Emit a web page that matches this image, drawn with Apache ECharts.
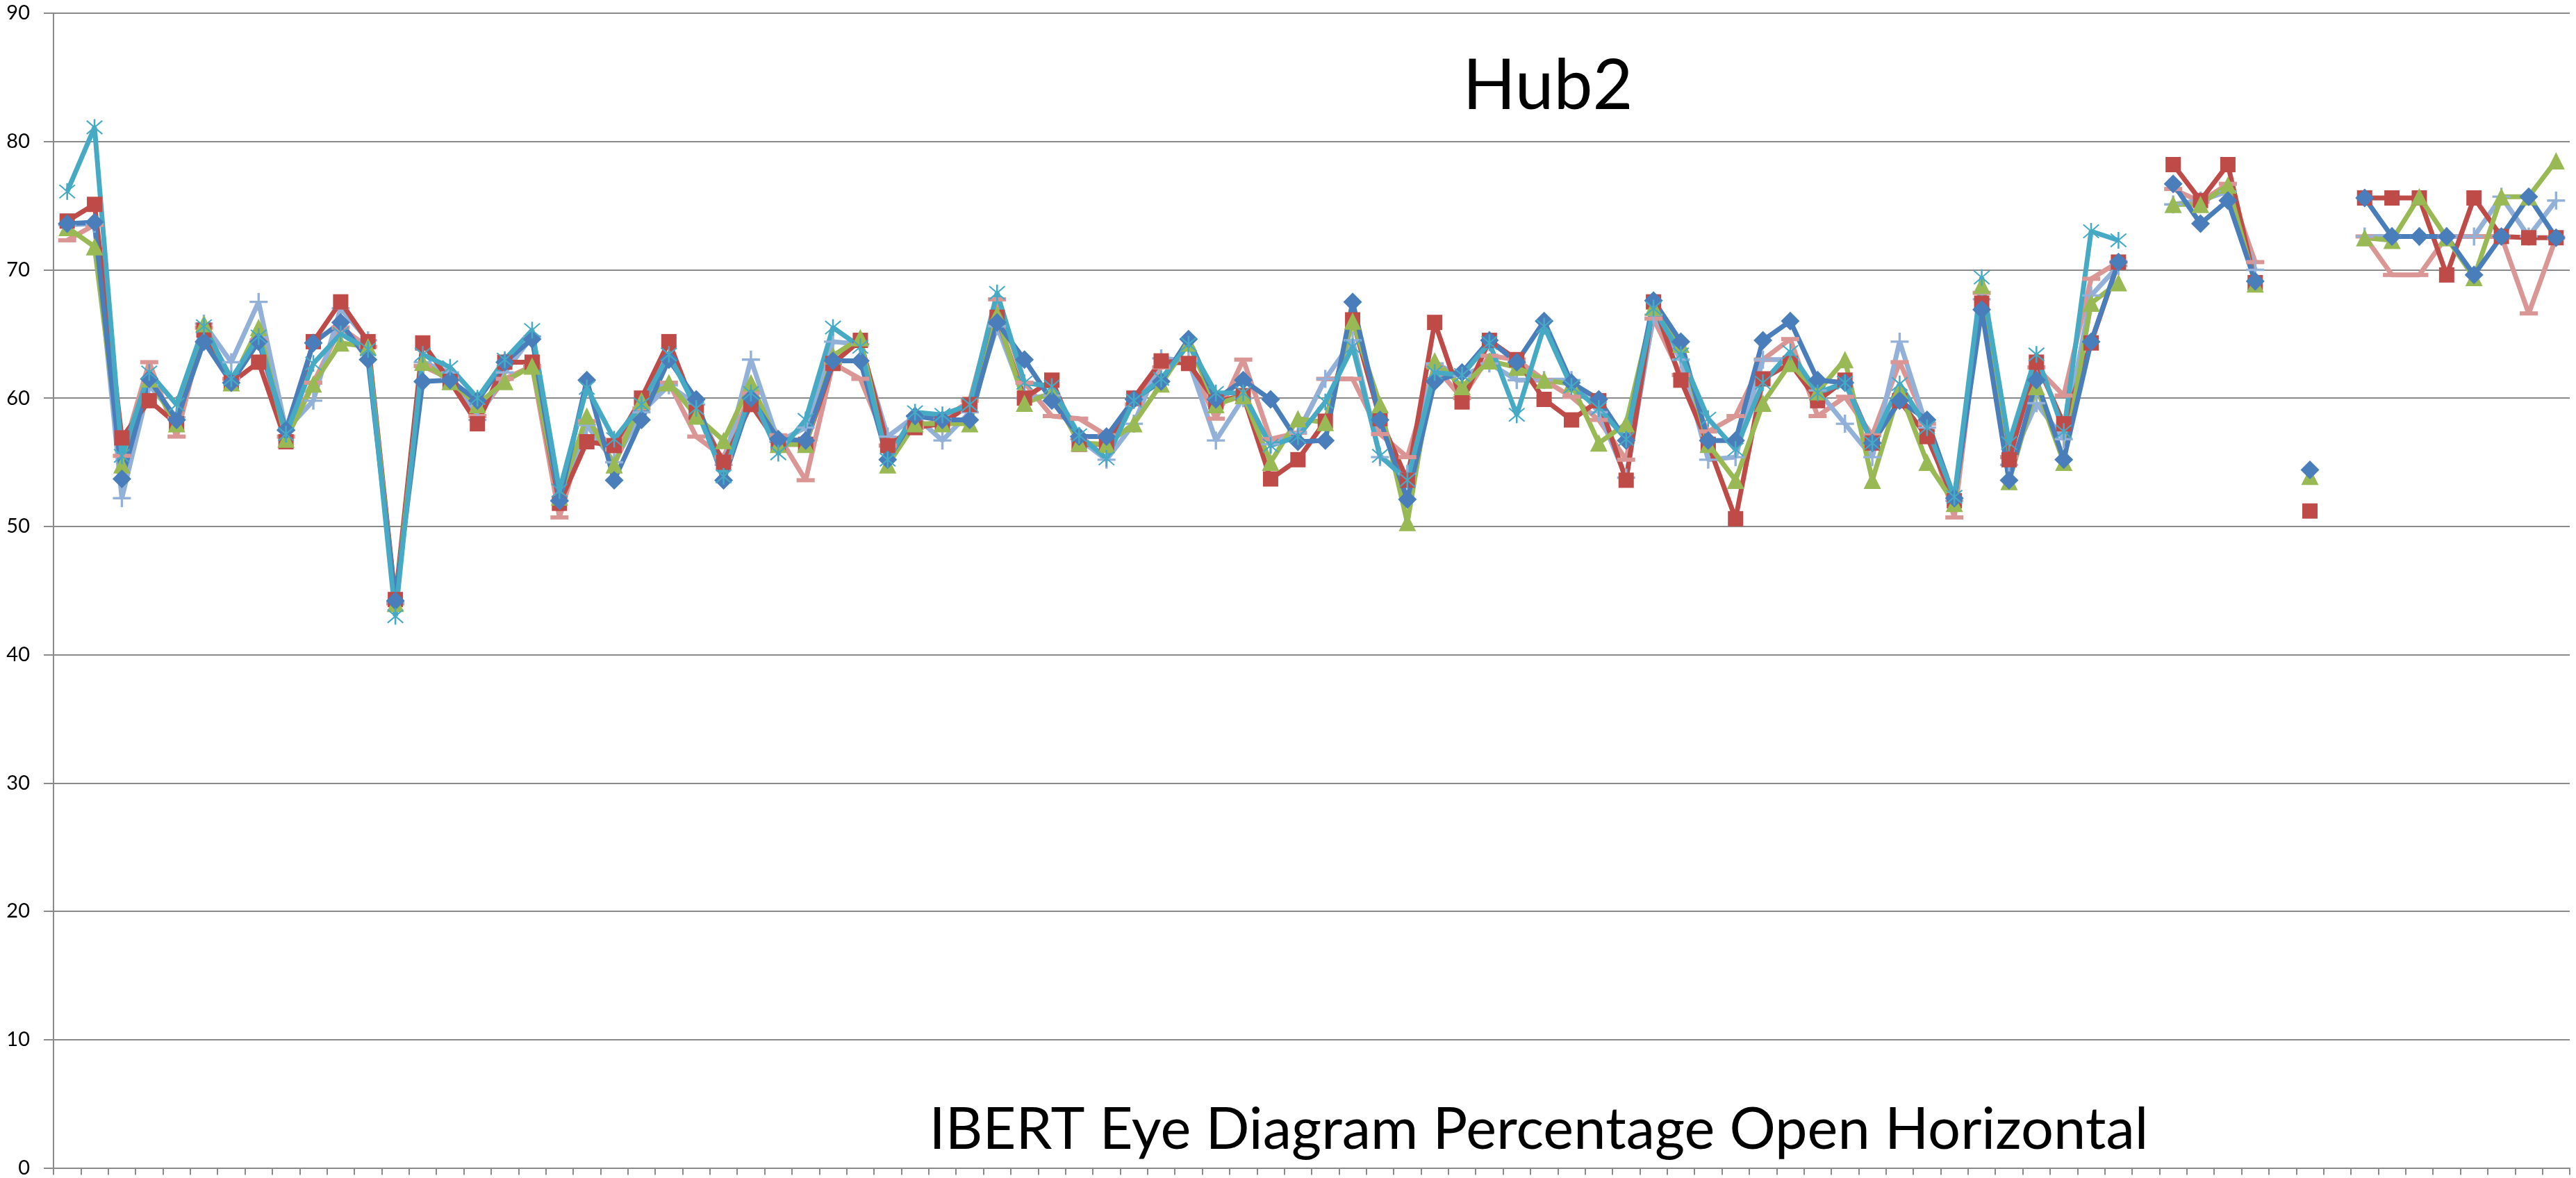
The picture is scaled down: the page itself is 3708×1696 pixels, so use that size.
<!DOCTYPE html>
<html>
<head>
<meta charset="utf-8">
<title>Hub2</title>
<script src="https://cdn.jsdelivr.net/npm/echarts@6/dist/echarts.min.js"></script>
<style>
  html, body { margin: 0; padding: 0; background: #ffffff; }
  #chart { width: 3708px; height: 1696px; }
</style>
</head>
<body>
<div id="chart"></div>
<script>
// ---------- data ----------
var categories = [];
for (var c = 1; c <= 92; c++) categories.push(String(c));

var chartTitle = 'Hub2';
var axisTitle = 'IBERT Eye Diagram Percentage Open Horizontal';
var yMin = 0, yMax = 90, yStep = 10;

var blueDiamond = [
  73.6, 73.7, 53.7, 61.5, 58.3, 64.4, 61.2, 64.4, 57.5, 64.3,
  65.9, 63.0, 44.2, 61.3, 61.4, 59.8, 62.8, 64.6, 52.0, 61.4,
  53.6, 58.3, 63.0, 59.9, 53.6, 60.0, 56.8, 56.7, 62.9, 62.9,
  55.2, 58.6, 58.3, 58.3, 65.9, 63.0, 59.8, 57.0, 57.0, 59.9,
  61.3, 64.6, 59.9, 61.4, 59.9, 56.6, 56.7, 67.5, 58.3, 52.1,
  61.3, 62.0, 64.5, 62.8, 66.0, 61.2, 59.9, 56.7, 67.6, 64.4,
  56.7, 56.7, 64.5, 66.0, 61.4, 61.2, 56.5, 59.8, 58.3, 52.2,
  66.9, 53.6, 61.4, 55.2, 64.4, 70.6, null, 76.7, 73.6, 75.4,
  69.1, null, 54.4, null, 75.6, 72.6, 72.6, 72.6, 69.6, 72.6,
  75.7, 72.5
];
var redSquare = [
  73.8, 75.1, 56.9, 59.8, 58.0, 65.3, 61.2, 62.8, 56.6, 64.4,
  67.5, 64.4, 44.3, 64.3, 61.3, 58.0, 62.8, 62.8, 51.8, 56.6,
  56.3, 60.0, 64.4, 58.9, 55.0, 59.5, 56.4, 56.4, 62.7, 64.5,
  56.3, 57.7, 58.0, 59.5, 66.3, 60.0, 61.4, 56.4, 56.4, 60.0,
  62.9, 62.7, 59.7, 60.2, 53.7, 55.2, 58.2, 66.1, 58.4, 53.6,
  65.9, 59.7, 64.5, 63.0, 59.9, 58.3, 59.8, 53.6, 67.5, 61.4,
  56.4, 50.6, 61.5, 62.7, 59.8, 61.4, 56.5, 59.8, 57.0, 52.0,
  67.4, 55.2, 62.8, 58.0, 64.3, 70.6, null, 78.2, 75.4, 78.2,
  69.0, null, 51.2, null, 75.6, 75.6, 75.6, 69.6, 75.6, 72.6,
  72.5, 72.5
];
var greenTriangle = [
  73.3, 71.8, 54.8, 61.5, 58.0, 65.8, 61.2, 65.5, 56.8, 61.1,
  64.3, 64.0, 44.0, 62.8, 61.3, 59.5, 61.3, 62.5, 52.3, 58.6,
  54.8, 59.8, 61.2, 58.6, 56.7, 61.2, 56.4, 56.4, 63.3, 64.7,
  54.8, 58.0, 58.0, 58.0, 66.5, 59.6, 60.4, 56.5, 56.4, 58.0,
  61.1, 64.3, 59.5, 60.2, 55.0, 58.4, 58.1, 66.0, 59.5, 50.3,
  62.9, 60.9, 62.9, 62.4, 61.4, 61.1, 56.5, 58.0, 67.1, 64.2,
  56.4, 53.6, 59.6, 62.7, 60.5, 63.0, 53.6, 60.6, 55.0, 51.8,
  68.8, 53.5, 60.9, 55.0, 67.4, 69.0, null, 75.1, 75.1, 76.6,
  68.9, null, 53.9, null, 72.5, 72.3, 75.7, 72.5, 69.4, 75.7,
  75.7, 78.5
];
var tealAsterisk = [
  76.1, 81.1, 55.5, 62.0, 59.5, 65.6, 61.5, 64.8, 57.2, 62.7,
  65.0, 63.8, 43.0, 63.4, 62.4, 60.0, 63.0, 65.3, 52.8, 60.8,
  56.8, 59.5, 63.4, 59.2, 53.9, 60.4, 55.7, 58.3, 65.5, 64.0,
  55.2, 58.9, 58.7, 59.5, 68.2, 61.2, 60.9, 57.1, 55.3, 59.8,
  61.5, 64.2, 60.4, 60.4, 56.3, 57.0, 59.7, 64.0, 55.5, 53.6,
  62.0, 61.8, 64.3, 58.7, 65.6, 60.9, 59.2, 56.8, 67.0, 63.4,
  58.4, 56.0, 61.2, 63.6, 60.4, 61.2, 56.5, 61.1, 57.7, 52.3,
  69.4, 56.5, 63.4, 57.4, 73.0, 72.3, null, null, null, null,
  null, null, null, null, null, null, null, null, null, null,
  null, null
];
var lightBluePlus = [
  73.5, 73.6, 52.2, 61.0, 58.5, 65.8, 62.8, 67.5, 57.5, 59.8,
  67.0, 64.5, 44.0, 62.8, 62.0, 58.3, 62.0, 64.8, 52.0, 57.9,
  55.0, 58.9, 61.0, 59.5, 54.8, 63.0, 56.6, 57.7, 64.4, 64.2,
  57.0, 58.6, 56.7, 58.9, 65.6, 60.0, 60.2, 56.8, 55.2, 58.0,
  63.1, 62.9, 56.7, 60.0, 56.4, 57.3, 61.5, 64.5, 55.4, 54.1,
  62.7, 61.7, 62.7, 61.4, 61.4, 61.4, 58.9, 53.8, 66.5, 63.0,
  55.2, 55.4, 63.0, 63.0, 60.6, 58.0, 55.4, 64.4, 57.7, 52.0,
  67.7, 54.8, 59.6, 56.8, 68.0, 70.3, null, 75.1, 75.4, 76.1,
  70.0, null, null, null, 72.6, 72.6, 72.6, 72.6, 72.6, 75.7,
  72.6, 75.4
];
var pinkDash = [
  72.3, 73.5, 55.5, 62.8, 57.0, 65.5, 61.5, 64.5, 57.0, 61.2,
  65.5, 64.0, 44.0, 62.5, 61.5, 58.6, 61.5, 62.5, 50.7, 58.2,
  56.0, 59.2, 61.2, 57.0, 55.4, 60.4, 57.1, 53.6, 62.7, 61.5,
  56.3, 57.7, 58.3, 59.8, 67.7, 61.2, 58.6, 58.4, 57.1, 59.5,
  62.4, 63.0, 58.4, 63.0, 56.8, 57.3, 61.5, 61.5, 57.2, 55.4,
  62.5, 60.0, 63.3, 63.0, 61.4, 60.1, 58.3, 55.2, 66.2, 61.8,
  57.4, 58.6, 63.0, 64.6, 58.6, 60.1, 57.1, 62.8, 58.0, 50.7,
  68.2, 55.4, 62.4, 60.2, 69.3, 70.6, null, 76.3, 75.3, 76.7,
  70.6, null, null, null, 72.6, 69.6, 69.6, 72.6, 72.6, 72.6,
  66.6, 72.5
];

// ---------- marker shapes ----------
var plusPath = 'path://M-1,-0.13 L-0.13,-0.13 L-0.13,-1 L0.13,-1 L0.13,-0.13 L1,-0.13 L1,0.13 L0.13,0.13 L0.13,1 L-0.13,1 L-0.13,0.13 L-1,0.13 Z';
var asteriskPath = 'path://M-0.09,-1 L0.09,-1 L0.09,1 L-0.09,1 Z ' +
  'M-0.743,-0.857 L0.857,0.743 L0.743,0.857 L-0.857,-0.743 Z ' +
  'M-0.857,0.743 L0.743,-0.857 L0.857,-0.743 L-0.743,0.857 Z';

function mk(name, data, color, symbol, size) {
  return {
    name: name,
    type: 'line',
    data: data,
    symbol: symbol,
    symbolSize: size,
    showSymbol: true,
    showAllSymbol: true,
    connectNulls: false,
    lineStyle: { color: color, width: 7 },
    itemStyle: { color: color, borderWidth: 0 },
    emphasis: { disabled: true },
    animation: false
  };
}

var chart = echarts.init(document.getElementById('chart'), null, { renderer: 'canvas' });
chart.setOption({
  backgroundColor: '#ffffff',
  animation: false,
  grid: { left: 77, right: 9, top: 19, bottom: 10, containLabel: false },
  xAxis: {
    type: 'category',
    data: categories,
    boundaryGap: true,
    axisLine: { show: true, lineStyle: { color: '#8a8a8a', width: 2 } },
    axisTick: { show: true, interval: 0, length: 10, lineStyle: { color: '#8a8a8a', width: 2 } },
    axisLabel: { show: false },
    splitLine: { show: false }
  },
  yAxis: {
    type: 'value',
    min: yMin,
    max: yMax,
    interval: yStep,
    axisLine: { show: true, lineStyle: { color: '#8a8a8a', width: 2 } },
    axisTick: { show: true, length: 14, lineStyle: { color: '#8a8a8a', width: 2 } },
    axisLabel: { color: '#000000', fontFamily: 'Lato', fontSize: 29, margin: 34 },
    splitLine: { show: true, lineStyle: { color: '#8a8a8a', width: 2 } }
  },
  graphic: [
    { type: 'text', silent: true, z: 100,
      style: { text: chartTitle, x: 2228, y: 125, textAlign: 'center', textVerticalAlign: 'middle',
               font: '100px Lato', fill: '#000000' } },
    { type: 'text', silent: true, z: 100,
      style: { text: axisTitle, x: 2215, y: 1627, textAlign: 'center', textVerticalAlign: 'middle',
               font: '83px Lato', fill: '#000000' } }
  ],
  series: [
    mk('Pink', pinkDash, '#DA9694', 'rect', [26, 6]),
    mk('Light blue', lightBluePlus, '#93B1D8', plusPath, 26),
    mk('Red', redSquare, '#BE4B48', 'rect', 22),
    mk('Green', greenTriangle, '#98B954', 'triangle', 25),
    mk('Blue', blueDiamond, '#4A7EBB', 'diamond', 27),
    mk('Teal', tealAsterisk, '#46AAC5', asteriskPath, 24)
  ]
});
</script>
</body>
</html>
